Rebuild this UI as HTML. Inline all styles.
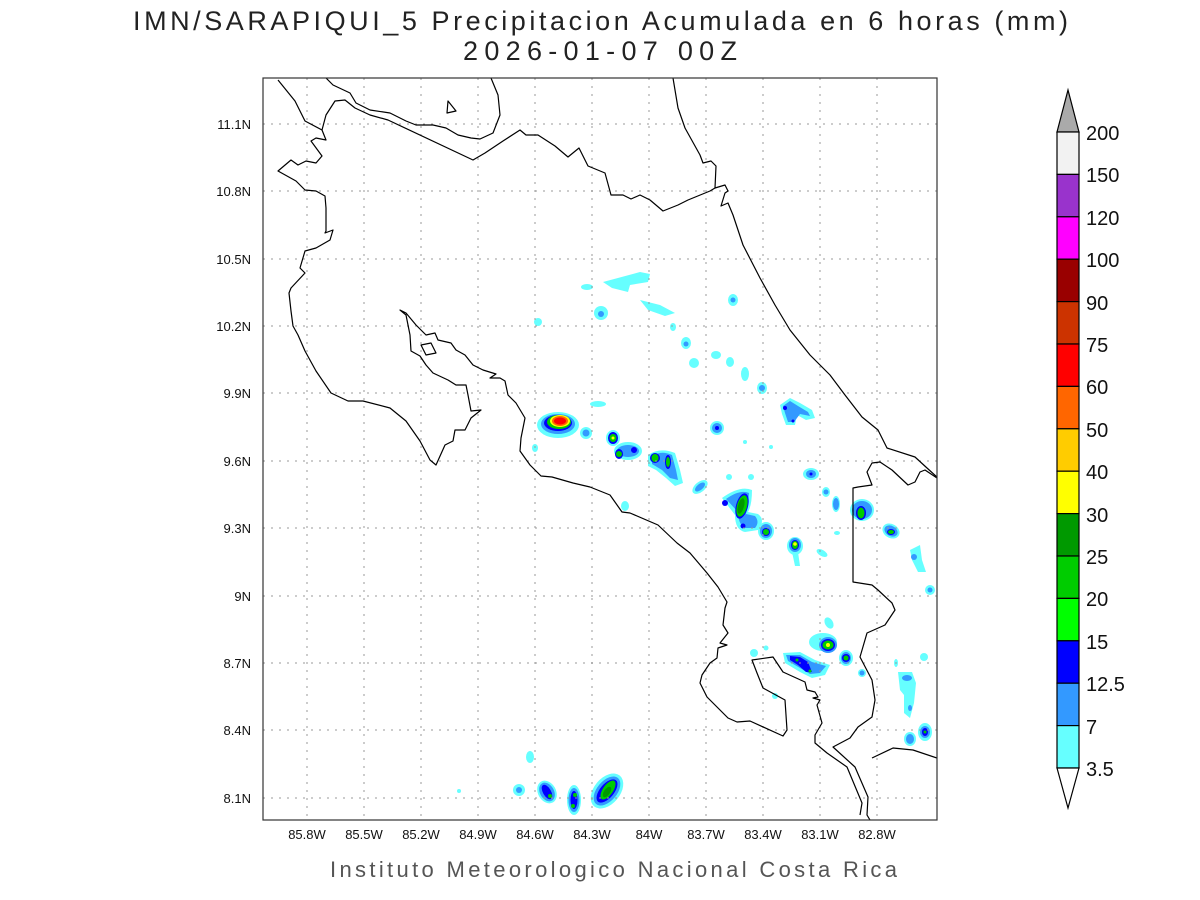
<!DOCTYPE html>
<html><head><meta charset="utf-8"><style>
html,body{margin:0;padding:0;background:#fff;}
svg{display:block;}
text{font-family:"Liberation Sans",sans-serif;}
</style></head><body>
<svg width="1200" height="900" viewBox="0 0 1200 900" xmlns="http://www.w3.org/2000/svg">
<rect width="1200" height="900" fill="#fff"/>
<text x="133" y="30" font-size="27" fill="#222" textLength="935" lengthAdjust="spacing">IMN/SARAPIQUI_5 Precipitacion Acumulada en 6 horas (mm)</text>
<text x="463" y="60" font-size="27" fill="#222" textLength="274" lengthAdjust="spacing">2026-01-07 00Z</text>
<defs><clipPath id="c"><rect x="263" y="78" width="674" height="742"/></clipPath></defs>
<g clip-path="url(#c)">
<g id="blobs">
<path d="M603,282 L640,272 L650,274 L648,282 L630,285 L628,292 L612,288 Z" fill="#66ffff"/>
<ellipse cx="587" cy="287" rx="6" ry="3" fill="#66ffff"/>
<path d="M640,300 L660,305 L675,313 L665,316 L648,310 Z" fill="#66ffff"/>
<ellipse cx="601" cy="313" rx="7" ry="7" fill="#66ffff"/><circle cx="601" cy="314" r="3" fill="#3399ff"/>
<ellipse cx="538" cy="322" rx="4" ry="4" fill="#66ffff"/>
<ellipse cx="733" cy="300" rx="5" ry="6" fill="#66ffff"/><circle cx="733" cy="300" r="2.5" fill="#3399ff"/>
<ellipse cx="673" cy="327" rx="3" ry="4" fill="#66ffff"/>
<ellipse cx="686" cy="343" rx="5" ry="6" fill="#66ffff"/><circle cx="686" cy="344" r="2.5" fill="#3399ff"/>
<ellipse cx="694" cy="363" rx="5" ry="5" fill="#66ffff"/>
<ellipse cx="716" cy="355" rx="5" ry="4" fill="#66ffff"/>
<ellipse cx="730" cy="362" rx="4" ry="5" fill="#66ffff"/>
<ellipse cx="745" cy="374" rx="4" ry="7" fill="#66ffff"/>
<ellipse cx="598" cy="404" rx="8" ry="3" fill="#66ffff"/>
<ellipse cx="535" cy="448" rx="3" ry="4" fill="#66ffff"/>
<ellipse cx="625" cy="506" rx="4" ry="5" fill="#66ffff"/>
<ellipse cx="558" cy="425" rx="21" ry="13" fill="#66ffff"/>
<ellipse cx="558" cy="424" rx="17" ry="10" fill="#3399ff"/>
<ellipse cx="558" cy="423" rx="14" ry="8" fill="#0000ff"/>
<ellipse cx="559" cy="422" rx="12" ry="7" fill="#00cc00"/>
<ellipse cx="560" cy="421" rx="10" ry="6" fill="#ffff00"/>
<ellipse cx="560" cy="421" rx="8" ry="5" fill="#ff6600"/>
<ellipse cx="560" cy="421" rx="6" ry="3.5" fill="#ff0000"/>
<ellipse cx="586" cy="433" rx="6" ry="6" fill="#66ffff"/><circle cx="586" cy="433" r="3.5" fill="#3399ff"/>
<ellipse cx="613" cy="438" rx="7" ry="8" fill="#66ffff"/><ellipse cx="613" cy="438" rx="5" ry="6" fill="#0000ff"/><ellipse cx="613" cy="438" rx="3.5" ry="4" fill="#00cc00"/><circle cx="613" cy="438" r="1.5" fill="#ffff00"/>
<ellipse cx="628" cy="451" rx="14" ry="9" fill="#66ffff"/><ellipse cx="628" cy="451" rx="11" ry="6" fill="#3399ff"/><ellipse cx="619" cy="454" rx="4" ry="5" fill="#0000ff"/><circle cx="619" cy="454" r="3" fill="#00cc00"/><ellipse cx="634" cy="450" rx="3" ry="3" fill="#0000ff"/>
<path d="M648,455 Q660,447 675,453 L680,470 L683,483 L675,486 L666,478 L656,470 L648,466 Z" fill="#66ffff"/>
<path d="M652,456 Q661,450 672,455 L676,470 L678,480 L670,478 L662,470 L652,464 Z" fill="#3399ff"/>
<ellipse cx="655" cy="458" rx="5" ry="5" fill="#0000ff"/><ellipse cx="655" cy="458" rx="3.5" ry="4" fill="#00cc00"/>
<ellipse cx="668" cy="462" rx="3" ry="7" fill="#0000ff"/><ellipse cx="668" cy="462" rx="2" ry="5" fill="#00cc00"/>
<ellipse cx="700" cy="487" rx="9" ry="5" transform="rotate(-40 700 487)" fill="#66ffff"/><ellipse cx="700" cy="487" rx="6" ry="3" transform="rotate(-40 700 487)" fill="#3399ff"/>
<ellipse cx="729" cy="477" rx="3" ry="3" fill="#66ffff"/>
<ellipse cx="751" cy="477" rx="3" ry="3" fill="#66ffff"/>
<path d="M722,498 Q740,485 752,490 Q752,505 748,512 L758,514 Q766,520 758,530 L745,532 Q735,530 735,515 Z" fill="#66ffff"/>
<path d="M726,499 Q740,489 749,493 Q748,505 746,514 L755,516 Q760,522 755,528 L745,528 Q738,524 738,512 Z" fill="#3399ff"/>
<ellipse cx="742" cy="506" rx="6" ry="13" transform="rotate(15 742 506)" fill="#0000ff"/>
<ellipse cx="742" cy="506" rx="5" ry="11" transform="rotate(15 742 506)" fill="#00cc00"/>
<ellipse cx="741" cy="506" rx="3" ry="8" transform="rotate(15 741 506)" fill="#009900"/>
<circle cx="725" cy="503" r="3" fill="#0000ff"/><circle cx="743" cy="526" r="2.5" fill="#0000ff"/>
<ellipse cx="766" cy="531" rx="8" ry="9" fill="#66ffff"/><ellipse cx="766" cy="531" rx="6" ry="7" fill="#3399ff"/><ellipse cx="766" cy="532" rx="4" ry="4" fill="#0000ff"/><circle cx="766" cy="532" r="3" fill="#00cc00"/>
<ellipse cx="795" cy="546" rx="8" ry="9" fill="#66ffff"/><path d="M792,552 L798,552 L800,566 L795,566 Z" fill="#66ffff"/><ellipse cx="795" cy="545" rx="6" ry="7" fill="#3399ff"/><ellipse cx="795" cy="545" rx="4" ry="5" fill="#0000ff"/><ellipse cx="795" cy="545" rx="3" ry="4" fill="#00cc00"/><circle cx="795" cy="544" r="1.8" fill="#ffff00"/>
<ellipse cx="822" cy="553" rx="6" ry="3" transform="rotate(30 822 553)" fill="#66ffff"/>
<ellipse cx="717" cy="428" rx="7" ry="7" fill="#66ffff"/><ellipse cx="717" cy="428" rx="5" ry="5" fill="#3399ff"/><circle cx="717" cy="428" r="2" fill="#0000ff"/>
<ellipse cx="762" cy="388" rx="5" ry="6" fill="#66ffff"/><circle cx="762" cy="388" r="3" fill="#3399ff"/>
<path d="M780,405 L790,398 L800,403 L812,410 L815,418 L806,420 L797,415 L795,425 L786,425 L782,414 Z" fill="#66ffff"/>
<path d="M783,406 L790,401 L798,406 L808,412 L810,416 L800,414 L794,422 L788,422 L785,413 Z" fill="#3399ff"/>
<circle cx="785" cy="408" r="2" fill="#0000ff"/><circle cx="793" cy="421" r="1.5" fill="#0000ff"/>
<circle cx="745" cy="442" r="2" fill="#66ffff"/><circle cx="771" cy="447" r="2" fill="#66ffff"/>
<ellipse cx="811" cy="474" rx="8" ry="6" fill="#66ffff"/><ellipse cx="811" cy="474" rx="5" ry="4" fill="#3399ff"/><circle cx="811" cy="474" r="1.5" fill="#0000ff"/>
<ellipse cx="826" cy="492" rx="4" ry="5" fill="#66ffff"/><circle cx="826" cy="492" r="2.5" fill="#3399ff"/>
<ellipse cx="836" cy="504" rx="4" ry="8" fill="#66ffff"/><ellipse cx="836" cy="504" rx="3" ry="6" fill="#3399ff"/>
<ellipse cx="837" cy="533" rx="3" ry="2" fill="#66ffff"/>
<ellipse cx="862" cy="510" rx="12" ry="11" fill="#66ffff"/><ellipse cx="862" cy="510" rx="10" ry="9" fill="#3399ff"/><ellipse cx="861" cy="513" rx="5" ry="7" fill="#0000ff"/><ellipse cx="861" cy="513" rx="3.5" ry="5.5" fill="#00cc00"/>
<ellipse cx="891" cy="531" rx="9" ry="7" transform="rotate(30 891 531)" fill="#66ffff"/><ellipse cx="891" cy="531" rx="7" ry="5" transform="rotate(30 891 531)" fill="#3399ff"/><ellipse cx="891" cy="532" rx="4" ry="3" fill="#0000ff"/><ellipse cx="891" cy="532" rx="3" ry="2" fill="#00cc00"/>
<path d="M910,550 L920,545 L922,560 L926,572 L918,572 L912,560 Z" fill="#66ffff"/><circle cx="914" cy="557" r="3" fill="#3399ff"/>
<ellipse cx="930" cy="590" rx="5" ry="5" fill="#66ffff"/><circle cx="930" cy="590" r="2.5" fill="#3399ff"/>
<ellipse cx="829" cy="623" rx="4" ry="6" transform="rotate(-30 829 623)" fill="#66ffff"/>
<ellipse cx="823" cy="642" rx="14" ry="9" fill="#66ffff"/><ellipse cx="828" cy="645" rx="9" ry="8" fill="#3399ff"/><ellipse cx="828" cy="645" rx="7" ry="6" fill="#0000ff"/><ellipse cx="828" cy="645" rx="5.5" ry="4.5" fill="#00cc00"/><circle cx="828" cy="645" r="2" fill="#ffff00"/>
<ellipse cx="754" cy="653" rx="4" ry="4" fill="#66ffff"/><circle cx="766" cy="648" r="2.5" fill="#66ffff"/>
<path d="M783,653 L800,652 L815,660 L830,665 L825,675 L812,678 L800,672 L785,663 Z" fill="#66ffff"/>
<path d="M786,655 L800,655 L812,662 L826,666 L820,673 L810,674 L800,668 L788,661 Z" fill="#3399ff"/>
<path d="M790,656 L800,657 L808,662 L812,672 L806,672 L798,665 L790,660 Z" fill="#0000ff"/>
<circle cx="797" cy="660" r="1.5" fill="#00cc00"/><circle cx="810" cy="671" r="1.5" fill="#00cc00"/>
<ellipse cx="846" cy="658" rx="7" ry="8" fill="#66ffff"/><ellipse cx="846" cy="658" rx="5" ry="6" fill="#3399ff"/><ellipse cx="846" cy="658" rx="4" ry="4" fill="#0000ff"/><circle cx="846" cy="658" r="2.5" fill="#00cc00"/>
<ellipse cx="862" cy="673" rx="4" ry="4" fill="#66ffff"/><circle cx="862" cy="673" r="2.5" fill="#3399ff"/>
<ellipse cx="775" cy="696" rx="3" ry="3" fill="#66ffff"/>
<ellipse cx="896" cy="663" rx="2" ry="4" fill="#66ffff"/>
<ellipse cx="924" cy="657" rx="4" ry="4" fill="#66ffff"/>
<path d="M898,672 L912,672 L916,683 L914,703 L910,718 L904,713 L904,695 L900,690 Z" fill="#66ffff"/>
<ellipse cx="907" cy="678" rx="5" ry="3" fill="#3399ff"/><ellipse cx="910" cy="708" rx="2" ry="3" fill="#3399ff"/>
<ellipse cx="925" cy="732" rx="7" ry="9" fill="#66ffff"/><ellipse cx="925" cy="732" rx="5" ry="6" fill="#3399ff"/><ellipse cx="925" cy="732" rx="3" ry="4" fill="#0000ff"/><circle cx="925" cy="732" r="1.5" fill="#00cc00"/>
<ellipse cx="910" cy="739" rx="6" ry="7" fill="#66ffff"/><ellipse cx="910" cy="739" rx="4" ry="5" fill="#3399ff"/>
<ellipse cx="530" cy="757" rx="4" ry="6" fill="#66ffff"/>
<ellipse cx="519" cy="790" rx="6" ry="6" fill="#66ffff"/><circle cx="519" cy="790" r="3" fill="#3399ff"/>
<ellipse cx="547" cy="792" rx="9" ry="12" transform="rotate(-30 547 792)" fill="#66ffff"/><ellipse cx="547" cy="792" rx="7" ry="10" transform="rotate(-30 547 792)" fill="#3399ff"/><ellipse cx="547" cy="792" rx="4" ry="8" transform="rotate(-30 547 792)" fill="#0000ff"/><circle cx="550" cy="796" r="2" fill="#00cc00"/>
<ellipse cx="574" cy="800" rx="7" ry="15" fill="#66ffff"/><ellipse cx="574" cy="800" rx="5.5" ry="12" fill="#3399ff"/><ellipse cx="574" cy="800" rx="3.5" ry="9" fill="#0000ff"/><circle cx="575" cy="795" r="2" fill="#00cc00"/><circle cx="573" cy="806" r="2" fill="#00cc00"/>
<ellipse cx="607" cy="791" rx="13" ry="20" transform="rotate(40 607 791)" fill="#66ffff"/><ellipse cx="607" cy="791" rx="10" ry="17" transform="rotate(40 607 791)" fill="#3399ff"/><ellipse cx="607" cy="791" rx="7" ry="14" transform="rotate(40 607 791)" fill="#0000ff"/><ellipse cx="608" cy="790" rx="5" ry="11" transform="rotate(35 608 790)" fill="#00cc00"/><ellipse cx="607" cy="792" rx="3" ry="6" transform="rotate(35 607 792)" fill="#009900"/>
<circle cx="459" cy="791" r="2" fill="#66ffff"/>
</g>
<g stroke="#999" stroke-width="1" stroke-dasharray="2,6">
<line x1="307" y1="78" x2="307" y2="820"/><line x1="364" y1="78" x2="364" y2="820"/><line x1="421" y1="78" x2="421" y2="820"/><line x1="478" y1="78" x2="478" y2="820"/><line x1="535" y1="78" x2="535" y2="820"/><line x1="592" y1="78" x2="592" y2="820"/><line x1="649" y1="78" x2="649" y2="820"/><line x1="706" y1="78" x2="706" y2="820"/><line x1="763" y1="78" x2="763" y2="820"/><line x1="820" y1="78" x2="820" y2="820"/><line x1="877" y1="78" x2="877" y2="820"/>
<line x1="263" y1="124" x2="937" y2="124"/><line x1="263" y1="191" x2="937" y2="191"/><line x1="263" y1="259" x2="937" y2="259"/><line x1="263" y1="326" x2="937" y2="326"/><line x1="263" y1="393" x2="937" y2="393"/><line x1="263" y1="461" x2="937" y2="461"/><line x1="263" y1="528" x2="937" y2="528"/><line x1="263" y1="596" x2="937" y2="596"/><line x1="263" y1="663" x2="937" y2="663"/><line x1="263" y1="730" x2="937" y2="730"/><line x1="263" y1="798" x2="937" y2="798"/>
</g>
<g fill="none" stroke="#000" stroke-width="1.2" stroke-linejoin="round">
<polyline points="278,80 295,101 305,121 322,130 326,140 316,138 311,141 322,156 316,163 306,161 298,165 291,160 278,171 296,181 305,190 316,191 325,196 326,208 326,231 325,233 333,230 330,240 316,248 305,251 300,268 305,273 291,288 289,293 291,311 293,326 298,335 305,351 316,371 331,393 348,401 363,401 390,408 406,421 420,441 430,460 436,465 445,445 453,441 455,430 465,430 471,418 481,410 471,411 468,395 466,385 456,385 448,380 433,373 426,365 420,356 411,351 410,335 406,315 400,310 406,313 416,325 426,335 435,333 438,340 451,343 456,350 465,355 473,365 483,370 496,374 490,378 500,378 505,381 508,395 516,403 525,418 521,438 520,451 530,465 541,476 552,477 573,483 590,487 610,495 622,512 630,513 658,525 677,543 690,553 707,573 718,587 727,602 725,608 723,625 728,633 720,643 727,645 718,648 717,658 710,663 702,675 700,683 707,697 715,705 728,718 737,722 750,721 783,736 787,730 785,700 763,688 757,673 752,660 773,657 783,672 805,682 807,690 815,692 818,697 813,698 820,700 817,705 822,723 815,735 815,743 827,753 847,767 862,803 860,815"/>
<polyline points="322,130 326,115 335,101 345,100 355,108 370,115 388,120 473,160 485,153 503,141 520,130 526,135 538,135 555,146 568,157 579,148 588,166 605,173 611,195 623,195 631,199 640,195 650,200 663,211 678,205 688,200 710,191 715,188"/>
<polyline points="326,78 333,85 350,93 356,103 370,110 390,113 406,121 416,125 433,125 446,128 458,135 471,138 480,139 493,133 500,115 498,95 491,78"/>
<polyline points="673,78 678,108 685,128 700,155 703,163 711,161 716,166 715,188 725,185 728,191 725,193 721,206 728,203 733,215 743,245 760,278 775,305 790,330 810,355 830,375 845,395 862,417 878,430 887,448 915,457 927,468 937,477"/>
<polyline points="937,478 925,470 920,472 915,482 908,485 892,470 880,462 872,463 867,472 872,485 858,487 853,488 853,582 872,585 878,590 892,603 895,610 885,625 867,633 860,657 872,680 875,700 872,717 858,727 850,738 833,747 855,767 868,797 867,815 870,820"/>
<polyline points="872,758 893,748 913,750 937,758"/>
<polygon points="448,101 456,111 447,113"/>
<polygon points="421,345 431,343 436,353 426,355"/>
</g>
</g>
<rect x="263" y="78" width="674" height="742" fill="none" stroke="#333" stroke-width="1.2"/>
<g font-size="13" fill="#111" text-anchor="middle">
<text x="307" y="839">85.8W</text><text x="364" y="839">85.5W</text><text x="421" y="839">85.2W</text><text x="478" y="839">84.9W</text><text x="535" y="839">84.6W</text><text x="592" y="839">84.3W</text><text x="649" y="839">84W</text><text x="706" y="839">83.7W</text><text x="763" y="839">83.4W</text><text x="820" y="839">83.1W</text><text x="877" y="839">82.8W</text>
</g>
<g font-size="13" fill="#111" text-anchor="end">
<text x="251" y="129">11.1N</text><text x="251" y="196">10.8N</text><text x="251" y="264">10.5N</text><text x="251" y="331">10.2N</text><text x="251" y="398">9.9N</text><text x="251" y="466">9.6N</text><text x="251" y="533">9.3N</text><text x="251" y="601">9N</text><text x="251" y="668">8.7N</text><text x="251" y="735">8.4N</text><text x="251" y="803">8.1N</text>
</g>
<text x="330" y="877" font-size="22" fill="#555" textLength="567" lengthAdjust="spacing">Instituto Meteorologico Nacional Costa Rica</text>
<g stroke="#000" stroke-width="1.2">
<polygon points="1057,132 1079,132 1068,90" fill="#aaaaaa"/>
<rect x="1057" y="132" width="22" height="42.4" fill="#f2f2f2"/>
<rect x="1057" y="174.4" width="22" height="42.4" fill="#9933cc"/>
<rect x="1057" y="216.8" width="22" height="42.4" fill="#ff00ff"/>
<rect x="1057" y="259.2" width="22" height="42.4" fill="#990000"/>
<rect x="1057" y="301.6" width="22" height="42.4" fill="#cc3300"/>
<rect x="1057" y="344" width="22" height="42.4" fill="#ff0000"/>
<rect x="1057" y="386.4" width="22" height="42.4" fill="#ff6600"/>
<rect x="1057" y="428.8" width="22" height="42.4" fill="#ffcc00"/>
<rect x="1057" y="471.2" width="22" height="42.4" fill="#ffff00"/>
<rect x="1057" y="513.6" width="22" height="42.4" fill="#009900"/>
<rect x="1057" y="556" width="22" height="42.4" fill="#00cc00"/>
<rect x="1057" y="598.4" width="22" height="42.4" fill="#00ff00"/>
<rect x="1057" y="640.8" width="22" height="42.4" fill="#0000ff"/>
<rect x="1057" y="683.2" width="22" height="42.4" fill="#3399ff"/>
<rect x="1057" y="725.6" width="22" height="42.4" fill="#66ffff"/>
<polygon points="1057,768 1079,768 1068,808" fill="#ffffff"/>
</g>
<g font-size="20" fill="#111">
<text x="1086" y="140">200</text><text x="1086" y="182">150</text><text x="1086" y="225">120</text><text x="1086" y="267">100</text><text x="1086" y="310">90</text><text x="1086" y="352">75</text><text x="1086" y="394">60</text><text x="1086" y="437">50</text><text x="1086" y="479">40</text><text x="1086" y="522">30</text><text x="1086" y="564">25</text><text x="1086" y="606">20</text><text x="1086" y="649">15</text><text x="1086" y="691">12.5</text><text x="1086" y="734">7</text><text x="1086" y="776">3.5</text>
</g>
</svg>
</body></html>
